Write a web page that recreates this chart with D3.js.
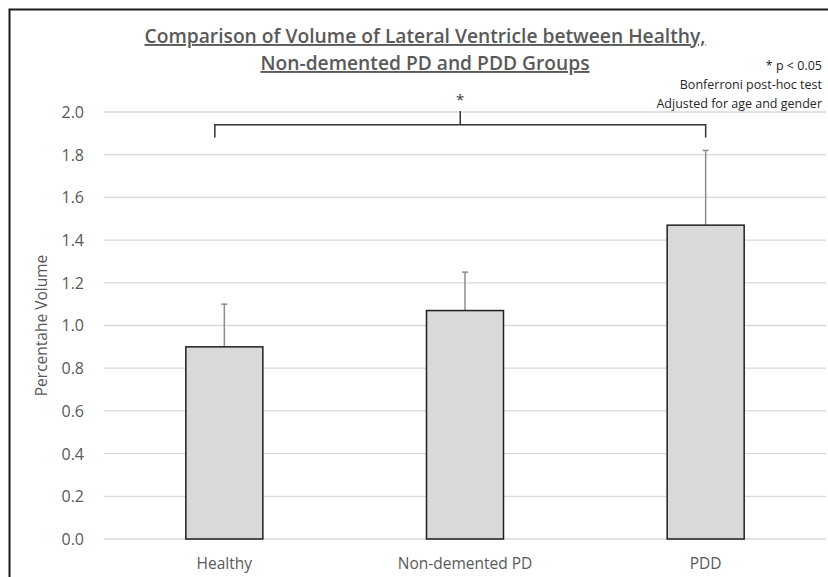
<!DOCTYPE html>
<html>
<head>
<meta charset="utf-8">
<script src="https://cdn.jsdelivr.net/npm/d3@7"></script>
<style>
  body { margin: 0; background: #fff; }
  svg { display: block; font-family: "Open Sans", sans-serif; }
</style>
</head>
<body>
<div id="chart"></div>
<script>
// valeurs
const groups = ["Healthy", "Non-demented PD", "PDD"];
const means = [0.90, 1.07, 1.47];
const errors = [0.20, 0.18, 0.35];
const yTicks = [0.0, 0.2, 0.4, 0.6, 0.8, 1.0, 1.2, 1.4, 1.6, 1.8, 2.0];
const titleLines = ["Comparison of Volume of Lateral Ventricle between Healthy,", "Non-demented PD and PDD Groups"];
const notes = ["* p < 0.05", "Bonferroni post-hoc test", "Adjusted for age and gender"];

const width = 828, height = 577;
const margin = {top: 112, right: 2, bottom: 38, left: 104};

const svg = d3.select("#chart").append("svg")
  .attr("width", width)
  .attr("height", height);

// cadre (coupé à droite et en bas)
svg.append("path")
  .attr("d", `M9.5,${height} V9.5 H${width}`)
  .attr("fill", "none")
  .attr("stroke", "#1a1a1a")
  .attr("stroke-width", 2);

const x = d3.scaleBand()
  .domain(groups)
  .range([margin.left, width - margin.right])
  .paddingInner(0.68)
  .paddingOuter(0.34);

const y = d3.scaleLinear()
  .domain([0, 2])
  .range([height - margin.bottom, margin.top]);

// grille
svg.append("g")
  .selectAll("line")
  .data(yTicks)
  .join("line")
  .attr("x1", margin.left)
  .attr("x2", width - margin.right)
  .attr("y1", d => y(d))
  .attr("y2", d => y(d))
  .attr("stroke", "#d9d9d9")
  .attr("stroke-width", 1.3);

// axe Y
const yAxis = svg.append("g")
  .attr("transform", `translate(${margin.left - 20},0)`)
  .call(d3.axisLeft(y).tickValues(yTicks).tickFormat(d3.format(".1f")).tickSize(0).tickPadding(0));
yAxis.select(".domain").remove();
yAxis.selectAll("text")
  .attr("fill", "#595959")
  .attr("font-size", "16px")
  .attr("font-family", "Open Sans, sans-serif")
  .attr("dy", "0.34em");

// axe X
const xAxis = svg.append("g")
  .attr("transform", `translate(0,${height - margin.bottom})`)
  .call(d3.axisBottom(x).tickSize(0).tickPadding(19));
xAxis.select(".domain").remove();
xAxis.selectAll("text")
  .attr("fill", "#595959")
  .attr("font-size", "15.5px")
  .attr("font-family", "Open Sans, sans-serif");

// barres d'erreur
svg.append("g")
  .selectAll("g")
  .data(groups)
  .join("g")
  .each(function (g, i) {
    const cx = x(g) + x.bandwidth() / 2;
    const sel = d3.select(this);
    sel.append("line")
      .attr("x1", cx).attr("x2", cx)
      .attr("y1", y(means[i])).attr("y2", y(means[i] + errors[i]))
      .attr("stroke", "#8c8c8c").attr("stroke-width", 1.5);
    sel.append("line")
      .attr("x1", cx - 3).attr("x2", cx + 3)
      .attr("y1", y(means[i] + errors[i])).attr("y2", y(means[i] + errors[i]))
      .attr("stroke", "#8c8c8c").attr("stroke-width", 1.5);
  });

// barres
svg.append("g")
  .selectAll("rect")
  .data(groups)
  .join("rect")
  .attr("x", d => x(d))
  .attr("y", (d, i) => y(means[i]))
  .attr("width", x.bandwidth())
  .attr("height", (d, i) => y(0) - y(means[i]))
  .attr("fill", "#d9d9d9")
  .attr("stroke", "#1f1f1f")
  .attr("stroke-width", 1.5);

// accolade de significativité
const bx1 = x(groups[0]) + x.bandwidth() / 2 - 9.5;
const bx2 = x(groups[2]) + x.bandwidth() / 2;
const bTop = y(1.94), bBot = y(1.88);
const bMid = (bx1 + bx2) / 2;
svg.append("path")
  .attr("d", `M${bx1},${bBot} V${bTop} H${bx2} V${bBot} M${bMid},${bTop} V${y(2.005)}`)
  .attr("fill", "none")
  .attr("stroke", "#333")
  .attr("stroke-width", 1.5);
svg.append("text")
  .attr("x", bMid)
  .attr("y", y(2.035))
  .attr("text-anchor", "middle")
  .attr("font-size", "15px")
  .attr("fill", "#404040")
  .text("*");

// titre (largeurs calées sur l'original)
const titleLen = [561, 329];
svg.append("g")
  .selectAll("text")
  .data(titleLines)
  .join("text")
  .attr("x", 425)
  .attr("y", (d, i) => 43 + i * 27)
  .attr("text-anchor", "middle")
  .attr("font-size", "19px")
  .attr("font-weight", "600")
  .attr("fill", "#595959")
  .attr("text-decoration", "underline")
  .attr("textLength", (d, i) => titleLen[i])
  .attr("lengthAdjust", "spacingAndGlyphs")
  .text(d => d);

// notes
svg.append("g")
  .selectAll("text")
  .data(notes)
  .join("text")
  .attr("x", 822)
  .attr("y", (d, i) => 70 + i * 19)
  .attr("text-anchor", "end")
  .attr("font-size", "12.5px")
  .attr("fill", "#262626")
  .text(d => d);

// titre axe Y
svg.append("text")
  .attr("transform", `translate(47,${y(1.0)}) rotate(-90)`)
  .attr("text-anchor", "middle")
  .attr("font-size", "15.5px")
  .attr("fill", "#595959")
  .text("Percentahe Volume");
</script>
</body>
</html>
